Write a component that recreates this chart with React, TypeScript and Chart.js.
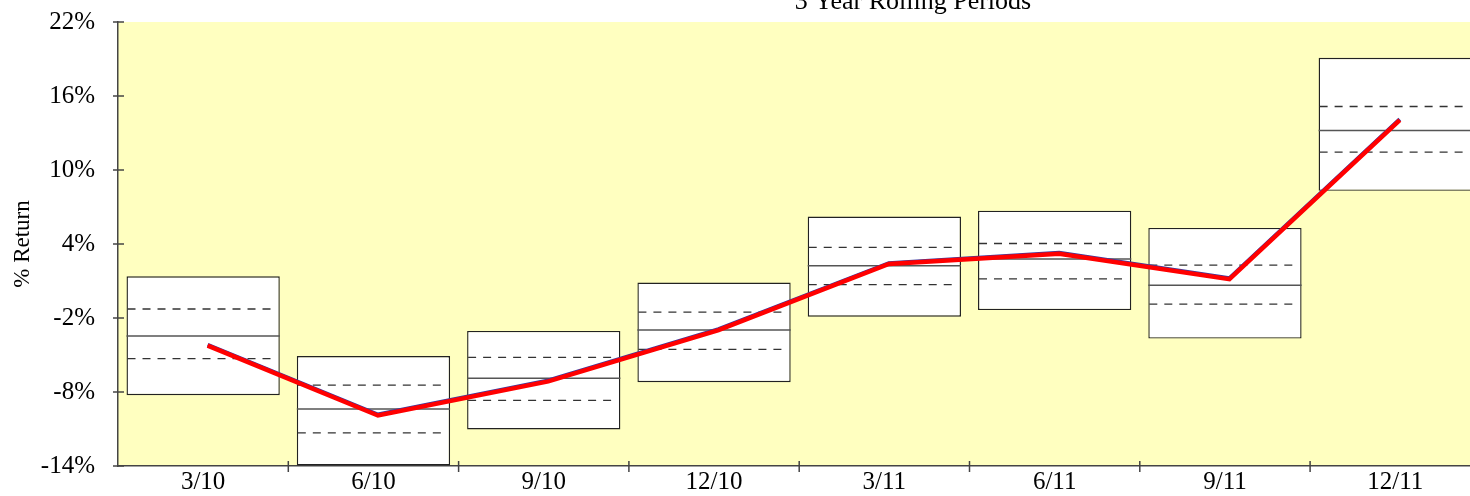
import React, { useEffect, useRef } from 'react';
import { Chart, registerables } from 'chart.js';

Chart.register(...registerables);

const categories = ['3/10', '6/10', '9/10', '12/10', '3/11', '6/11', '9/11', '12/11'];
const boxHigh = [1.38, -5.08, -3.05, 0.87, 6.22, 6.7, 5.3, 19.1];
const boxLow = [-8.26, -13.96, -11.04, -7.21, -1.89, -1.36, -3.67, 8.31];
const upperQuartile = [-1.27, -7.44, -5.2, -1.52, 3.72, 4.04, 2.29, 15.15];
const medianValues = [-3.45, -9.38, -6.89, -2.97, 2.24, 2.78, 0.66, 13.2];
const lowerQuartile = [-5.3, -11.31, -8.68, -4.55, 0.71, 1.17, -0.87, 11.45];
const portfolioReturn = [-4.17, -9.83, -7.07, -2.91, 2.45, 3.29, 1.22, 14.11];
const yTicks = [-14, -8, -2, 4, 10, 16, 22];
const chartTitle = '3 Year Rolling Periods';
const yTitle = '% Return';

const FONT = '"Liberation Serif", "Times New Roman", Times, serif';

export default function App() {
  const canvasRef = useRef<HTMLCanvasElement | null>(null);

  useEffect(() => {
    document.body.style.margin = '0';
    const canvas = canvasRef.current;
    if (!canvas) return;

    const plotBg = {
      id: 'plotBg',
      beforeDraw(chart: any) {
        const { ctx, chartArea: a } = chart;
        ctx.save();
        ctx.fillStyle = '#FFFFC0';
        ctx.fillRect(a.left, a.top, a.right - a.left, a.bottom - a.top);
        ctx.restore();
      },
    };

    const boxLines = {
      id: 'boxLines',
      afterDatasetDraw(chart: any, args: any) {
        if (args.index !== 0) return;
        const { ctx } = chart;
        const y = chart.scales.y;
        const meta = chart.getDatasetMeta(0);
        ctx.save();
        meta.data.forEach((el: any, i: number) => {
          const { x, width } = el.getProps(['x', 'width'], true);
          const x0 = x - width / 2;
          const x1 = x + width / 2;
          ctx.setLineDash([]);
          ctx.strokeStyle = '#555';
          ctx.lineWidth = 1.5;
          const ym = y.getPixelForValue(medianValues[i]);
          ctx.beginPath();
          ctx.moveTo(x0, ym);
          ctx.lineTo(x1, ym);
          ctx.stroke();
          ctx.setLineDash([8, 7]);
          ctx.strokeStyle = '#333';
          ctx.lineWidth = 1.3;
          [upperQuartile[i], lowerQuartile[i]].forEach((v) => {
            const yy = y.getPixelForValue(v);
            ctx.beginPath();
            ctx.moveTo(x0 + 1, yy);
            ctx.lineTo(x1 - 7, yy);
            ctx.stroke();
          });
        });
        ctx.restore();
      },
    };

    const shiftLines = {
      id: 'shiftLines',
      beforeDatasetDraw(chart: any, args: any) {
        if (args.index === 1 || args.index === 2) {
          chart.ctx.save();
          chart.ctx.translate(4.5, args.index === 2 ? 0.9 : 0);
        }
      },
      afterDatasetDraw(chart: any, args: any) {
        if (args.index === 1 || args.index === 2) chart.ctx.restore();
      },
    };

    const crossTicks = {
      id: 'crossTicks',
      afterDraw(chart: any) {
        const { ctx, chartArea: a, scales } = chart;
        ctx.save();
        ctx.strokeStyle = '#444';
        ctx.lineWidth = 1.5;
        yTicks.forEach((v) => {
          const py = scales.y.getPixelForValue(v);
          ctx.beginPath();
          ctx.moveTo(a.left - 5, py);
          ctx.lineTo(a.left + 6, py);
          ctx.stroke();
        });
        const xs = scales.x;
        const w = xs.getPixelForValue(1) - xs.getPixelForValue(0);
        for (let i = 1; i <= categories.length; i++) {
          const px = xs.getPixelForValue(i - 1) + w / 2;
          ctx.beginPath();
          ctx.moveTo(px, a.bottom - 5);
          ctx.lineTo(px, a.bottom + 6);
          ctx.stroke();
        }
        ctx.restore();
      },
    };

    const chart = new Chart(canvas, {
      type: 'bar',
      data: {
        labels: categories,
        datasets: [
          {
            type: 'bar',
            data: boxLow.map((lo, i) => [lo, boxHigh[i]]) as any,
            backgroundColor: '#ffffff',
            borderColor: '#222',
            borderWidth: 1.4,
            borderSkipped: false,
            categoryPercentage: 0.9,
            barPercentage: 1,
            order: 3,
          } as any,
          {
            type: 'line',
            data: portfolioReturn,
            borderColor: '#3a3aa0',
            borderWidth: 4,
            pointRadius: 0,
            tension: 0,
            order: 2,
          } as any,
          {
            type: 'line',
            data: portfolioReturn,
            borderColor: '#ff0000',
            borderWidth: 4.5,
            pointRadius: 0,
            tension: 0,
            order: 1,
          } as any,
        ],
      },
      options: {
        responsive: false,
        animation: false,
        devicePixelRatio: 1,
        layout: { padding: 0 },
        plugins: {
          legend: { display: false },
          tooltip: { enabled: false },
          title: {
            display: true,
            text: chartTitle,
            color: '#000',
            font: { family: FONT, size: 26, weight: 'normal' },
            padding: { top: 1, bottom: 4 },
          },
        },
        scales: {
          x: {
            grid: { display: false, drawTicks: false },
            border: { display: true, color: '#444', width: 1.5 },
            ticks: {
              color: '#000',
              font: { family: FONT, size: 25 },
              padding: 1,
              autoSkip: false,
              maxRotation: 0,
            },
            afterFit: (s: any) => {
              s.height = 37;
            },
          },
          y: {
            min: -14,
            max: 22,
            afterBuildTicks: (s: any) => {
              s.ticks = yTicks.map((v) => ({ value: v }));
            },
            grid: { display: false, drawTicks: false },
            border: { display: true, color: '#444', width: 1.5 },
            ticks: {
              color: '#000',
              font: { family: FONT, size: 25 },
              padding: 23,
              callback: (v: any) => v + '%',
            },
            title: {
              display: true,
              text: yTitle,
              color: '#000',
              font: { family: FONT, size: 23 },
              padding: { top: 9, bottom: 0 },
            },
            afterFit: (s: any) => {
              s.width = 118;
            },
          },
          spacer: {
            type: 'linear',
            position: 'right',
            display: true,
            grid: { display: false, drawTicks: false },
            border: { display: false },
            ticks: { display: false },
            afterFit: (s: any) => {
              s.width = 345.6;
            },
          },
        },
      } as any,
      plugins: [plotBg, boxLines, shiftLines, crossTicks],
    });

    return () => chart.destroy();
  }, []);

  return (
    <div style={{ position: 'relative', width: 1470, height: 496, overflow: 'hidden' }}>
      <canvas
        ref={canvasRef}
        width={1826}
        height={520}
        style={{ position: 'absolute', left: 0, top: -16, width: 1826, height: 520 }}
      />
    </div>
  );
}
